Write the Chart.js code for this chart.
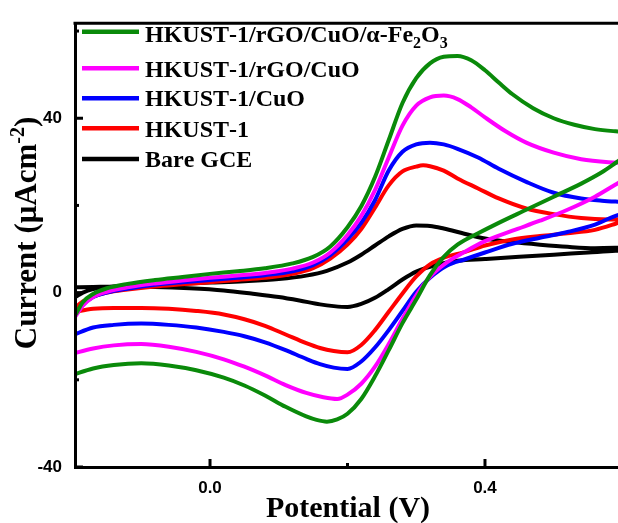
<!DOCTYPE html>
<html>
<head>
<meta charset="utf-8">
<script src="https://cdn.jsdelivr.net/npm/chart.js@4.4.0/dist/chart.umd.min.js"></script>
<style>
  html, body { margin: 0; padding: 0; background: #fff; overflow: hidden; }
  #cv { display: block; }
</style>
</head>
<body>
<canvas id="cv" width="618" height="523"></canvas>
<script>
// CV loops. fwd = anodic sweep (left -> right), rev = way back (right -> left)
// potential in V, current in uA/cm2

let seriesNames = ['HKUST-1/rGO/CuO/α-Fe2O3', 'HKUST-1/rGO/CuO', 'HKUST-1/CuO', 'HKUST-1', 'Bare GCE'];
let seriesColors = ['#0a8a0a', '#ff00ff', '#0000ff', '#ff0000', '#000000'];

// HKUST-1/rGO/CuO/a-Fe2O3 (green)
let fe2o3FwdV = [-0.20, -0.196, -0.185, -0.17, -0.15, -0.12, -0.08, -0.04, 0.0, 0.04, 0.08, 0.12, 0.15, 0.175, 0.20, 0.22, 0.24, 0.26, 0.28, 0.30, 0.32, 0.34, 0.36, 0.38, 0.40, 0.42, 0.44, 0.47, 0.50, 0.53, 0.56, 0.59, 0.63, 0.67];
let fe2o3FwdI = [-6.0, -5.1, -2.2, -0.3, 1.0, 2.0, 2.9, 3.6, 4.3, 4.9, 5.6, 6.7, 8.2, 10.6, 15.0, 19.8, 26.5, 35.0, 43.5, 49.2, 52.6, 54.1, 54.3, 53.3, 51.0, 48.2, 45.5, 42.3, 40.0, 38.5, 37.5, 37.0, 36.6, 35.5];
let fe2o3RevV = [0.63, 0.60, 0.57, 0.54, 0.50, 0.46, 0.42, 0.39, 0.36, 0.34, 0.32, 0.30, 0.28, 0.26, 0.24, 0.22, 0.20, 0.185, 0.17, 0.155, 0.14, 0.11, 0.08, 0.05, 0.02, -0.02, -0.06, -0.10, -0.14, -0.17, -0.20];
let fe2o3RevI = [33.5, 30.8, 27.6, 25.0, 22.0, 19.0, 16.0, 13.6, 11.0, 8.2, 4.0, -1.6, -7.0, -13.2, -19.2, -24.4, -27.8, -29.1, -29.6, -29.2, -28.4, -26.2, -23.6, -21.3, -19.5, -17.8, -16.7, -16.2, -16.6, -17.4, -18.9];

// HKUST-1/rGO/CuO (magenta)
let rgoFwdV = [-0.20, -0.196, -0.185, -0.17, -0.15, -0.12, -0.08, -0.04, 0.0, 0.04, 0.08, 0.12, 0.15, 0.175, 0.20, 0.22, 0.24, 0.26, 0.28, 0.30, 0.32, 0.34, 0.36, 0.38, 0.40, 0.43, 0.46, 0.50, 0.54, 0.58, 0.62, 0.655];
let rgoFwdI = [-6.3, -5.5, -3.0, -1.0, 0.2, 1.2, 2.1, 2.8, 3.4, 3.9, 4.5, 5.5, 6.9, 9.2, 13.2, 17.6, 23.5, 31.0, 38.3, 42.9, 44.8, 45.2, 44.4, 42.5, 40.2, 37.0, 34.4, 32.1, 30.6, 29.9, 29.6, 29.0];
let rgoRevV = [0.63, 0.61, 0.59, 0.56, 0.52, 0.48, 0.44, 0.40, 0.37, 0.345, 0.32, 0.30, 0.28, 0.26, 0.24, 0.22, 0.20, 0.185, 0.165, 0.14, 0.11, 0.08, 0.05, 0.02, -0.02, -0.06, -0.10, -0.14, -0.17, -0.20];
let rgoRevI = [28.0, 26.6, 24.8, 22.0, 19.0, 16.5, 14.2, 11.8, 9.3, 7.0, 3.6, -0.6, -6.0, -11.8, -17.0, -20.9, -23.4, -24.4, -24.0, -23.0, -21.2, -19.0, -17.0, -15.3, -13.6, -12.4, -11.8, -12.1, -12.8, -14.0];

// HKUST-1/CuO (blue)
let cuoFwdV = [-0.20, -0.196, -0.185, -0.17, -0.15, -0.12, -0.08, -0.04, 0.0, 0.04, 0.08, 0.12, 0.15, 0.175, 0.20, 0.22, 0.24, 0.26, 0.28, 0.30, 0.32, 0.34, 0.36, 0.39, 0.42, 0.46, 0.50, 0.54, 0.57, 0.60, 0.63, 0.66];
let cuoFwdI = [-5.8, -5.2, -2.8, -1.0, 0.0, 0.9, 1.8, 2.4, 2.9, 3.4, 4.0, 4.9, 6.3, 8.6, 12.2, 16.0, 21.2, 28.0, 32.3, 34.0, 34.4, 34.0, 33.0, 31.0, 28.4, 25.4, 22.9, 21.6, 21.1, 20.8, 20.5, 19.5];
let cuoRevV = [0.63, 0.61, 0.59, 0.56, 0.52, 0.48, 0.44, 0.40, 0.37, 0.345, 0.32, 0.30, 0.28, 0.26, 0.24, 0.22, 0.20, 0.18, 0.16, 0.14, 0.11, 0.08, 0.05, 0.02, -0.02, -0.06, -0.10, -0.14, -0.17, -0.20];
let cuoRevI = [19.0, 18.4, 17.6, 15.6, 13.9, 12.6, 11.2, 9.2, 7.6, 6.2, 3.4, 0.2, -4.2, -8.6, -12.6, -15.8, -17.5, -17.2, -16.4, -15.2, -13.2, -11.4, -10.0, -9.0, -8.0, -7.4, -7.1, -7.4, -8.0, -9.8];

// HKUST-1 (red)
let hkustFwdV = [-0.20, -0.196, -0.185, -0.17, -0.15, -0.12, -0.08, -0.04, 0.0, 0.04, 0.08, 0.12, 0.15, 0.175, 0.20, 0.22, 0.24, 0.26, 0.28, 0.30, 0.31, 0.32, 0.34, 0.36, 0.39, 0.42, 0.46, 0.50, 0.54, 0.58, 0.63];
let hkustFwdI = [-4.3, -3.5, -2.0, -0.9, 0.0, 0.7, 1.4, 1.9, 2.4, 2.9, 3.4, 4.3, 5.6, 7.8, 11.0, 14.6, 19.5, 24.6, 27.8, 28.9, 29.2, 29.0, 28.0, 26.2, 23.9, 21.6, 19.3, 18.0, 17.1, 16.8, 17.0];
let hkustRevV = [0.63, 0.61, 0.59, 0.56, 0.52, 0.48, 0.44, 0.40, 0.37, 0.34, 0.32, 0.30, 0.28, 0.26, 0.24, 0.22, 0.20, 0.18, 0.16, 0.14, 0.11, 0.08, 0.05, 0.02, -0.02, -0.06, -0.10, -0.14, -0.17, -0.20];
let hkustRevI = [18.0, 16.9, 15.8, 14.4, 13.6, 13.0, 12.2, 10.8, 9.3, 8.0, 6.5, 3.7, -0.2, -4.4, -8.6, -12.0, -13.7, -13.4, -12.7, -11.6, -9.6, -7.6, -6.1, -5.0, -4.2, -3.7, -3.5, -3.5, -3.7, -4.5];

// Bare GCE (black)
let bareFwdV = [-0.20, -0.196, -0.185, -0.17, -0.15, -0.10, -0.05, 0.0, 0.05, 0.10, 0.14, 0.17, 0.20, 0.22, 0.24, 0.26, 0.28, 0.30, 0.32, 0.34, 0.37, 0.40, 0.44, 0.48, 0.52, 0.56, 0.60, 0.63];
let bareFwdI = [-1.3, -1.0, 0.0, 0.8, 1.3, 1.8, 2.0, 2.3, 2.6, 3.1, 3.9, 5.0, 6.9, 8.7, 10.8, 12.9, 14.6, 15.4, 15.3, 14.7, 13.5, 12.4, 11.6, 11.0, 10.5, 10.2, 10.3, 10.4];
let bareRevV = [0.63, 0.59, 0.55, 0.50, 0.45, 0.40, 0.36, 0.33, 0.30, 0.28, 0.26, 0.24, 0.22, 0.20, 0.18, 0.16, 0.13, 0.10, 0.06, 0.02, -0.03, -0.08, -0.13, -0.17, -0.20];
let bareRevI = [9.8, 9.6, 9.2, 8.7, 8.2, 7.7, 7.3, 6.4, 4.8, 3.0, 0.8, -1.2, -2.6, -3.3, -3.1, -2.7, -1.8, -1.0, -0.2, 0.5, 1.0, 1.3, 1.4, 1.3, 1.2];

// axis ticks
let xTicks = [0.0, 0.4];
let xMinor = [0.2];
let yTicks = [-40, 0, 40];
let yMinor = [-20, 20, 60];

function toLoop(fv, fi, rv, ri) {
  let pts = fv.map((v, k) => ({x: v, y: fi[k]}));
  return pts.concat(rv.map((v, k) => ({x: v, y: ri[k]})));
}

let loops = [
  toLoop(fe2o3FwdV, fe2o3FwdI, fe2o3RevV, fe2o3RevI),
  toLoop(rgoFwdV, rgoFwdI, rgoRevV, rgoRevI),
  toLoop(cuoFwdV, cuoFwdI, cuoRevV, cuoRevI),
  toLoop(hkustFwdV, hkustFwdI, hkustRevV, hkustRevI),
  toLoop(bareFwdV, bareFwdI, bareRevV, bareRevI)
];

let datasets = [];
for (let i = 0; i < loops.length; i++) {
  datasets.push({
    label: seriesNames[i],
    data: loops[i],
    borderColor: seriesColors[i],
    backgroundColor: seriesColors[i],
    borderWidth: 4,
    borderJoinStyle: 'round',
    showLine: true,
    pointRadius: 0,
    cubicInterpolationMode: 'monotone',
    clip: 0
  });
}

const SERIF = '"Liberation Serif", "Times New Roman", serif';
const SANS = '"Liberation Sans", Arial, sans-serif';

// draw text where a digit right after a letter goes down as subscript (Fe2O3)
function drawLabel(ctx, txt, x, y, size) {
  let cur = x;
  for (let k = 0; k < txt.length; k++) {
    let ch = txt[k];
    let sub = /[0-9]/.test(ch) && k > 0 && /[A-Za-z]/.test(txt[k - 1]);
    ctx.font = 'bold ' + (sub ? Math.round(size * 0.66) : size) + 'px ' + SERIF;
    ctx.fillText(ch, cur, sub ? y + 6 : y);
    cur += ctx.measureText(ch).width;
  }
}

const decor = {
  id: 'decor',
  afterDraw(chart) {
    const ctx = chart.ctx;
    const a = chart.chartArea;
    const xs = chart.scales.x, ys = chart.scales.y;
    ctx.save();
    ctx.strokeStyle = '#000';
    ctx.fillStyle = '#000';

    // top frame
    ctx.lineWidth = 3;
    ctx.beginPath();
    ctx.moveTo(a.left - 1.5, a.top);
    ctx.lineTo(chart.width, a.top);
    ctx.stroke();

    // inward ticks
    ctx.lineWidth = 3;
    function tick(x1, y1, x2, y2) { ctx.beginPath(); ctx.moveTo(x1, y1); ctx.lineTo(x2, y2); ctx.stroke(); }
    xTicks.forEach(v => { let p = xs.getPixelForValue(v); tick(p, a.bottom, p, a.bottom - 8); });
    xMinor.forEach(v => { let p = xs.getPixelForValue(v); tick(p, a.bottom, p, a.bottom - 4); });
    yTicks.forEach(v => { let p = ys.getPixelForValue(v); tick(a.left, p, a.left + 8, p); });
    yMinor.forEach(v => { let p = ys.getPixelForValue(v); tick(a.left, p, a.left + 4, p); });

    // legend
    let lineY = [31.7, 68.3, 98.3, 128.3, 159];
    let baseY = [41.5, 76.5, 106, 136.5, 166.5];
    ctx.textAlign = 'left';
    ctx.textBaseline = 'alphabetic';
    for (let i = 0; i < seriesNames.length; i++) {
      ctx.strokeStyle = seriesColors[i];
      ctx.lineWidth = 4.5;
      tick(82, lineY[i], 139, lineY[i]);
      ctx.fillStyle = '#000';
      drawLabel(ctx, seriesNames[i], 145, baseY[i], 24);
    }

    // x title
    ctx.font = 'bold 30px ' + SERIF;
    ctx.textAlign = 'center';
    ctx.fillText('Potential (V)', 348, 517);

    // y title, rotated, with superscript
    ctx.translate(36, 233);
    ctx.rotate(-Math.PI / 2);
    ctx.textAlign = 'left';
    let p1 = 'Current (μAcm', p2 = '-2', p3 = ')';
    ctx.font = 'bold 31px ' + SERIF;
    let w1 = ctx.measureText(p1).width, w3 = ctx.measureText(p3).width;
    ctx.font = 'bold 20px ' + SERIF;
    let w2 = ctx.measureText(p2).width;
    let sx = -(w1 + w2 + w3) / 2;
    ctx.font = 'bold 31px ' + SERIF;
    ctx.fillText(p1, sx, 0);
    ctx.font = 'bold 20px ' + SERIF;
    ctx.fillText(p2, sx + w1, -12);
    ctx.font = 'bold 31px ' + SERIF;
    ctx.fillText(p3, sx + w1 + w2, 0);
    ctx.restore();
  }
};

new Chart(document.getElementById('cv').getContext('2d'), {
  type: 'scatter',
  data: { datasets: datasets },
  options: {
    responsive: false,
    animation: false,
    layout: { padding: { top: 16, right: 0, left: 0, bottom: 0 } },
    plugins: { legend: { display: false }, tooltip: { enabled: false } },
    scales: {
      x: {
        type: 'linear',
        min: -0.1964,
        max: 0.5935,
        afterBuildTicks: s => { s.ticks = xTicks.map(v => ({value: v})); },
        afterFit: s => { s.height = 56; },
        grid: { display: false, drawTicks: false },
        border: { display: true, width: 3, color: '#000', z: 1 },
        ticks: {
          padding: 11,
          color: '#000',
          font: { family: SANS, size: 17, weight: 'bold' },
          callback: v => Number(v).toFixed(1)
        }
      },
      y: {
        type: 'linear',
        min: -40,
        max: 61.8,
        afterBuildTicks: s => { s.ticks = yTicks.map(v => ({value: v})); },
        afterFit: s => { s.width = 75; },
        grid: { display: false, drawTicks: false },
        border: { display: true, width: 3, color: '#000', z: 1 },
        ticks: {
          padding: 13,
          color: '#000',
          font: { family: SANS, size: 17, weight: 'bold' },
          callback: v => String(v)
        }
      }
    }
  },
  plugins: [decor]
});
</script>
</body>
</html>
